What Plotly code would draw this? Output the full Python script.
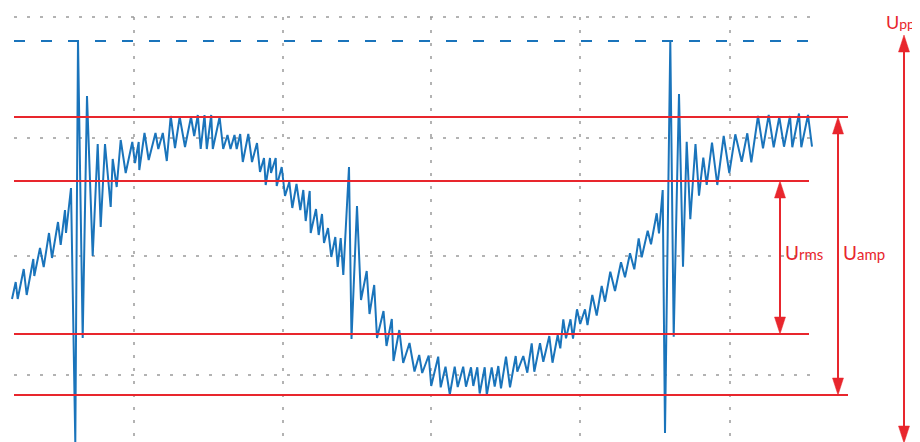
import plotly.graph_objects as go

# ---------------- data (sample index, amplitude units) ----------------
wave_x = [-2, 1.7, 3.7, 9.7, 12.7, 19.3, 20.3, 26, 29.7, 35, 38, 44, 46.7, 51, 52, 57,
          61.3, 64, 68.7, 73, 78.7, 83.7, 86.7, 91, 96.7, 98.7, 102.7, 106.7, 111.7,
          118.3, 121, 124.7, 125.3, 130.5, 134.7, 141.5, 144.3, 148.8, 152.8, 156.7,
          161, 165.7, 171, 177, 180.2, 183.8, 186.7, 190.5, 192.8, 197.2, 198.8, 205.6,
          209.2, 213.5, 216.5, 220.5, 222.7, 226.2, 228.8, 234.3, 238, 243, 246, 250,
          251.7, 256, 257, 261.7, 262.7, 267.7, 271, 275.3, 278.3, 282.5, 286.3, 289.3,
          291.7, 295.7, 296.7, 302, 304.7, 308, 310, 314, 317.3, 321.3, 323.7, 326.7,
          329.3, 335, 337.5, 343, 347, 352.7, 355.5, 360.2, 363, 369.5, 372.5, 377.8,
          379.5, 385.3, 389.2, 395.5, 400.5, 405.2, 408.2, 414.7, 417.2, 424.2, 426.7,
          431.5, 435.8, 440.7, 443.7, 449.2, 452, 457, 459.3, 463.3, 465.7, 470.7, 472.8,
          477.7, 480.7, 484.3, 487, 492, 496, 501.7, 503.3, 509.3, 513.3, 517.7, 520.3,
          526, 529.3, 535.3, 538.5, 543.7, 546.3, 549.3, 552, 556.5, 559, 563, 566.2,
          571, 573.5, 578.3, 582.7, 587.7, 591, 596.3, 601, 607, 611, 616, 620.3, 624.7,
          627.7, 633.7, 637, 642.7, 645, 648.7, 651, 656.3, 659.7, 665, 669, 672.7, 676.3,
          681.5, 685, 689.3, 692.7, 698, 703.3, 709.7, 715.3, 721.3, 727.7, 733.3, 737.3,
          744, 749, 754.7, 759.7, 765.3, 770, 776, 778.3, 785, 787.3, 794, 798]
wave_y = [-42, -25, -42, -12, -38, -2, -19, 9, -10, 24, -1, 35, 12, 47, 24, 69,
          -186, 217, -81, 161, 1, 113, 30, 113, 50, 98, 70, 117, 84,
          115, 94, 115, 87, 124, 97, 124, 108, 124, 96, 141,
          109, 140, 110, 140, 121, 142, 108, 142, 108, 142, 108, 140,
          108, 122, 108, 122, 108, 123, 95, 123, 95, 114, 85, 99,
          72, 99, 84, 99, 71, 90, 61, 75, 49, 73, 47, 67,
          36, 66, 24, 48, 22, 43, 14, 29, 0, 20, -10, 19,
          -18, 90, -82, 51, -43, -14, -57, -28, -81, -54, -89, -62,
          -104, -73, -106, -86, -114.5, -98, -116, -98.5, -129, -99.7, -130.3,
          -109.7, -137.5, -109.7, -130, -109.7, -129.7, -110.3, -129, -110.3, -136.5, -110.3, -138,
          -110.3, -129.7, -109, -131.3, -99.7, -130.3, -99, -114.7, -99, -115.7, -86.3, -114.7,
          -86.3, -104.7, -79, -105.7, -78, -91.3, -62.3, -81.3, -62.3, -81.5, -52.3, -67,
          -52.3, -68, -38, -58.5, -29, -44.7, -14.7, -34, -5.3, -20.3, 3.7, -12.3, 18.7,
          -0.3, 26.3, 12.7, 43.7, 23.7, 67, -176, 216, -79.7, 163, -9.7, 115.3, 37.7,
          113, 61.3, 99.3, 72, 114.3, 72, 121, 84, 122.7, 95.3, 123.7, 94.7,
          141, 108.7, 142, 109.7, 140, 110.3, 141, 109.7, 143.5, 109.7, 142, 110.3]

grid_x = [120, 269, 417, 566, 716]          # vertical dotted divisions
grid_y = [240, 119, 1, -118]                # horizontal dotted divisions
grid_x_span = [0, 796]
clip_level = 216                            # dashed blue level
amp_levels = [140, -138]                    # Uamp lines
rms_levels = [76, -77]                      # Urms lines
amp_span = [0, 834]
rms_span = [0, 795]
rms_arrow_x = 766
amp_arrow_x = 824
pp_arrow_x = 890
pp_levels = [222, -186]

labels = ["U<span style='font-size:15px'>rms</span>",
          "U<span style='font-size:15px'>amp</span>",
          "U<span style='font-size:14px'>pp</span>"]
label_pos = [(769, 5), (827, 5), (903, 235)]
label_anchor = ["left", "left", "right"]
label_size = [19, 19, 18]

# ---------------- styles ----------------
RED = "#e8262d"
BLUE = "#1a74bb"
GRAY = "#9a9a9a"
# the page body adds an 8px offset; ranges compensate so marks land where intended
X_RANGE = [-6, 914]
Y_RANGE = [-193, 249]

fig = go.Figure()

def seg_trace(xs, ys, color, width, dash="solid"):
    fig.add_trace(go.Scatter(x=xs, y=ys, mode="lines", hoverinfo="skip",
                             line=dict(color=color, width=width, dash=dash),
                             showlegend=False))

# grid
gx, gy = [], []
for v in grid_y:
    gx += [grid_x_span[0], grid_x_span[1], None]
    gy += [v, v, None]
seg_trace(gx, gy, GRAY, 1.5, "3px,10px")
gx, gy = [], []
for v in grid_x:
    gx += [v, v, None]
    gy += [grid_y[0], Y_RANGE[0], None]
seg_trace(gx, gy, GRAY, 1.5, "3px,10px")

# clip level dashed
seg_trace(grid_x_span, [clip_level, clip_level], BLUE, 2, "11px,16px")

# waveform
seg_trace(wave_x, wave_y, BLUE, 2)

# red level lines
for lv in amp_levels:
    seg_trace(amp_span, [lv, lv], RED, 2)
for lv in rms_levels:
    seg_trace(rms_span, [lv, lv], RED, 2)

HEAD_L, HEAD_W = 17, 11

def double_arrow(x, top, bottom):
    seg_trace([x, x], [top - HEAD_L + 2, bottom + HEAD_L - 2], RED, 2)
    fig.add_trace(go.Scatter(
        x=[x, x - HEAD_W / 2, x + HEAD_W / 2, x, None, x, x - HEAD_W / 2, x + HEAD_W / 2, x],
        y=[top, top - HEAD_L, top - HEAD_L, top, None, bottom, bottom + HEAD_L, bottom + HEAD_L, bottom],
        mode="lines", fill="toself", fillcolor=RED, line=dict(color=RED, width=0.5),
        hoverinfo="skip", showlegend=False))

double_arrow(rms_arrow_x, rms_levels[0], rms_levels[1])
double_arrow(amp_arrow_x, amp_levels[0], amp_levels[1])
double_arrow(pp_arrow_x, pp_levels[0], pp_levels[1])

for txt, (lx, ly), anc, sz in zip(labels, label_pos, label_anchor, label_size):
    fig.add_annotation(x=lx, y=ly, text=txt, showarrow=False, xanchor=anc,
                       yanchor="middle", font=dict(family="Lato", size=sz, color=RED))

fig.update_layout(
    width=920, height=442, margin=dict(l=0, r=0, t=0, b=0),
    paper_bgcolor="white", plot_bgcolor="white",
    xaxis=dict(range=X_RANGE, visible=False, fixedrange=True),
    yaxis=dict(range=Y_RANGE, visible=False, fixedrange=True),
)
fig.write_html("out.html")
